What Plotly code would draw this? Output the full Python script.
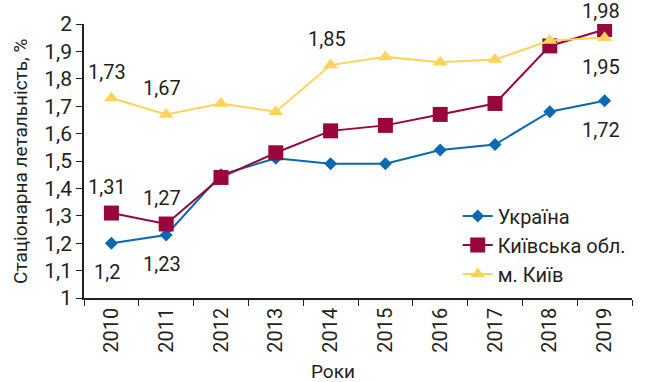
import plotly.graph_objects as go

years = ["2010", "2011", "2012", "2013", "2014", "2015", "2016", "2017", "2018", "2019"]
ukraine = [1.20, 1.23, 1.45, 1.51, 1.49, 1.49, 1.54, 1.56, 1.68, 1.72]
kyiv_obl = [1.31, 1.27, 1.44, 1.53, 1.61, 1.63, 1.67, 1.71, 1.92, 1.98]
kyiv_city = [1.73, 1.67, 1.71, 1.68, 1.85, 1.88, 1.86, 1.87, 1.94, 1.95]

names = ["Україна", "Київська обл.", "м. Київ"]
colors = ["#0a69b3", "#98063c", "#fdd45a"]
symbols = ["diamond", "square", "triangle-up"]
sizes = [10, 15, 13]

# labelled points: (series index, year index, label side: 1 above, -1 below)
labels = [
    (0, 0, -1), (0, 1, -1), (0, 9, -1),
    (1, 0, 1), (1, 1, 1), (1, 9, 1),
    (2, 0, 1), (2, 1, 1), (2, 4, 1), (2, 9, -1),
]

series = [ukraine, kyiv_obl, kyiv_city]
font_fam = "Roboto, Arial"
txt = "#231f20"

fig = go.Figure()
for i in range(3):
    fig.add_trace(go.Scatter(
        x=years, y=series[i], name=names[i], mode="lines+markers",
        line=dict(color=colors[i], width=2),
        marker=dict(symbol=symbols[i], size=sizes[i], color=colors[i]),
    ))

for s, k, side in labels:
    v = series[s][k]
    shift = 26 if side > 0 else -29
    if s == 1 and k == 9:
        shift = 18
    fig.add_annotation(
        x=k, y=v, xref="x", yref="y", showarrow=False,
        text=f"{v:g}".replace(".", ","), yshift=shift, xshift=-4,
        font=dict(size=20, color=txt, family=font_fam),
    )

# axis titles as paper annotations
fig.add_annotation(x=-0.117, y=0.5, xref="paper", yref="paper", showarrow=False,
                   text="Стаціонарна летальність, %", textangle=-90,
                   xanchor="center", yanchor="middle",
                   font=dict(size=19, color=txt, family=font_fam))
fig.add_annotation(x=0.455, y=-0.27, xref="paper", yref="paper", showarrow=False,
                   text="Роки", xanchor="center", yanchor="middle",
                   font=dict(size=19, color=txt, family=font_fam))

fig.update_layout(
    width=648, height=382,
    margin=dict(l=84, r=16, t=24, b=84, autoexpand=False),
    paper_bgcolor="white", plot_bgcolor="white",
    font=dict(family=font_fam, color=txt, size=18),
    showlegend=True,
    legend=dict(x=0.682, y=0.37, xanchor="left", yanchor="top",
                font=dict(size=20, color=txt, family=font_fam),
                bgcolor="rgba(0,0,0,0)", itemwidth=30, tracegroupgap=0),
    xaxis=dict(
        type="category", range=[-0.5, 9.5], showgrid=False, automargin=False,
        showline=True, linecolor="#231f20", linewidth=1.5,
        ticks="outside", tickson="boundaries", ticklen=6, tickcolor="#231f20",
        tickangle=-90, tickfont=dict(size=20),
    ),
    yaxis=dict(
        range=[1, 2], showgrid=False, zeroline=False, automargin=False,
        showline=True, linecolor="#231f20", linewidth=1.5,
        ticks="outside", ticklen=6, tickcolor="#231f20",
        tickfont=dict(size=21),
        tickvals=[1, 1.1, 1.2, 1.3, 1.4, 1.5, 1.6, 1.7, 1.8, 1.9, 2],
        ticktext=["1", "1,1", "1,2", "1,3", "1,4", "1,5", "1,6", "1,7", "1,8", "1,9", "2"],
    ),
)

fig.write_html("out.html")
